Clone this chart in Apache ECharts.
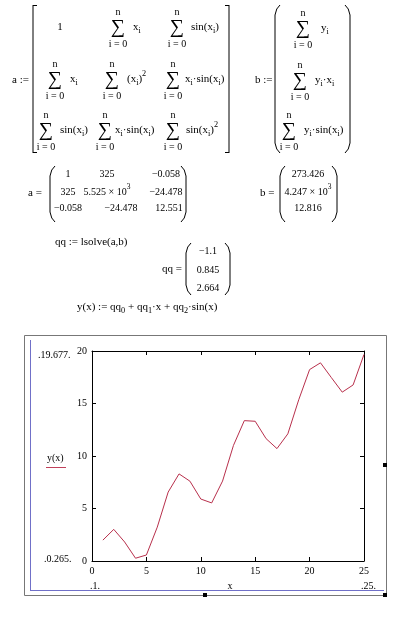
<!DOCTYPE html>
<html>
<head>
<meta charset="utf-8">
<script src="https://cdn.jsdelivr.net/npm/echarts@6/dist/echarts.min.js"></script>
<style>
html,body{margin:0;padding:0;background:#fff;}
#c{width:405px;height:620px;}
</style>
</head>
<body>
<div id="c"></div>
<script>
// ---- data ----
var xValues = [1,2,3,4,5,6,7,8,9,10,11,12,13,14,15,16,17,18,19,20,21,22,23,24,25];
var yValues = [1.987,3.012,1.811,0.264,0.570,3.226,6.565,8.296,7.603,5.901,5.531,7.611,11.004,
               13.369,13.307,11.653,10.704,12.109,15.354,18.232,18.874,17.466,16.081,16.767,19.672];
var xTicks = [0,5,10,15,20,25];
var yTicks = [0,5,10,15,20];
var matA = [["1","325","\u22120.058"],["325","5.525 \u00d7 10","\u221224.478"],["\u22120.058","\u221224.478","12.551"]];
var vecB = ["273.426","4.247 \u00d7 10","12.816"];
var vecQQ = ["\u22121.1","0.845","2.664"];
var yMaxLabel = "19.677";
var yMinLabel = "0.265";

// ---- helpers ----
var FONT = '"Liberation Serif","Times New Roman",serif';
var cv = document.createElement('canvas').getContext('2d');
function mw(s, size){ cv.font = size + 'px ' + FONT; return cv.measureText(s).width; }
var G = [];
function T(x, y, s, size, align){
  G.push({type:'text', x:x, y:y, silent:true, style:{text:s, font: (size||10)+'px '+FONT, fill:'#000',
    textAlign: align||'left', textVerticalAlign:'middle'}});
}
var SUBK = 0.75;
function exprWidth(parts, size){
  size = size||11; var w=0;
  parts.forEach(function(p){ w += mw(p[0], p[1]==='n'?size:size*SUBK); });
  return w;
}
function E(x, y, parts, size, center){
  size = size||11;
  if(center){ x = x - exprWidth(parts,size)/2; }
  parts.forEach(function(p){
    if(p[1]==='n'){ T(x,y,p[0],size); x += mw(p[0],size); }
    else if(p[1]==='s'){ T(x,y+4,p[0],size*SUBK); x += mw(p[0],size*SUBK); }
    else { T(x,y-5,p[0],size*SUBK); x += mw(p[0],size*SUBK); }
  });
}
function SUM(cx, cy){
  T(cx, cy-15, 'n', 10, 'center');
  T(cx, cy+1, '\u2211', 20, 'center');
  T(cx, cy+17, 'i = 0', 10, 'center');
}
function L(x1,y1,x2,y2,color,w){
  G.push({type:'line', silent:true, shape:{x1:x1,y1:y1,x2:x2,y2:y2}, style:{stroke:color||'#000', lineWidth:w||1}});
}
function sqBracket(x, top, bot, dir){
  L(x, top, x, bot); L(x, top+0.5, x+4*dir, top+0.5); L(x, bot-0.5, x+4*dir, bot-0.5);
}
function paren(x, top, bot, dir){
  var c = 5*dir;
  G.push({type:'bezierCurve', silent:true, shape:{x1:x+c, y1:top, x2:x, y2:top+10, cpx1:x+1*dir, cpy1:top+3}, style:{stroke:'#000', lineWidth:1, fill:null}});
  L(x, top+10, x, bot-10);
  G.push({type:'bezierCurve', silent:true, shape:{x1:x, y1:bot-10, x2:x+c, y2:bot, cpx1:x+1*dir, cpy1:bot-3}, style:{stroke:'#000', lineWidth:1, fill:null}});
}
var xi = [['x','n'],['i','s']];
var sinxi = [['sin(x','n'],['i','s'],[')','n']];
var dot = [['\u00b7','n']];

// ---- matrix a := ----
T(12, 80, 'a :=', 11);
sqBracket(33, 5, 153, 1);
sqBracket(229, 5, 153, -1);
T(60, 27, '1', 11, 'center');
SUM(118, 27); E(133, 27, xi);
SUM(177, 27); E(191, 27, sinxi);
SUM(55, 79); E(70, 79, xi);
SUM(112, 79); E(127, 79, [['(x','n'],['i','s'],[')','n'],['2','p']]);
SUM(173, 79); E(185, 79, xi.concat(dot, sinxi));
SUM(46, 130); E(60, 130, sinxi);
SUM(105, 130); E(115, 130, xi.concat(dot, sinxi));
SUM(173, 130); E(186, 130, sinxi.concat([['2','p']]));

// ---- vector b := ----
T(255, 80, 'b :=', 11);
paren(275, 5, 153, 1);
paren(350, 5, 153, -1);
SUM(303, 28); E(321, 28, [['y','n'],['i','s']]);
SUM(300, 80); E(315, 80, [['y','n'],['i','s'],['\u00b7x','n'],['i','s']]);
SUM(289, 130); E(304, 130, [['y','n'],['i','s'],['\u00b7','n']].concat(sinxi));

// ---- numeric a = ----
T(28, 193, 'a =', 11);
paren(50, 166, 222, 1);
paren(186, 166, 222, -1);
var colX = [[68, 107, 166],[68, 107, 166],[68, 121, 169]], rowY = [174, 192, 208];
for (var r=0;r<3;r++) for (var c=0;c<3;c++){
  var s = matA[r][c];
  if (r===1 && c===1) E(colX[r][c], rowY[r], [[s,'n'],['3','p']], 10, true);
  else T(colX[r][c], rowY[r], s, 10, 'center');
}
// ---- numeric b = ----
T(260, 193, 'b =', 11);
paren(280, 166, 222, 1);
paren(337, 166, 222, -1);
T(308, 174, vecB[0], 10, 'center');
E(308, 192, [[vecB[1],'n'],['3','p']], 10, true);
T(308, 208, vecB[2], 10, 'center');

// ---- qq ----
T(55, 242, 'qq := lsolve(a,b)', 11);
T(162, 269, 'qq =', 11);
paren(186, 243, 295, 1);
paren(230, 243, 295, -1);
T(208, 251, vecQQ[0], 10, 'center');
T(208, 270, vecQQ[1], 10, 'center');
T(208, 288, vecQQ[2], 10, 'center');
E(77, 307, [['y(x) := qq','n'],['0','s'],[' + qq','n'],['1','s'],['\u00b7x + qq','n'],['2','s'],['\u00b7sin(x)','n']]);

// ---- plot frame ----
G.push({type:'rect', silent:true, shape:{x:24.5, y:335.5, width:362, height:260}, style:{fill:null, stroke:'#777', lineWidth:1}});
L(30.5, 340, 30.5, 590.5, '#7070c8', 1);
L(30, 590.5, 384, 590.5, '#7070c8', 1);
[[205,595],[385,465],[385,595]].forEach(function(p){
  G.push({type:'rect', silent:true, shape:{x:p[0]-2, y:p[1]-2, width:4, height:4}, style:{fill:'#000'}});
});
T(38, 355, '.' + yMaxLabel + '.', 10);
T(44, 559, '.' + yMinLabel + '.', 10);
T(47, 458, 'y(x)', 10);
L(46, 467.5, 66, 467.5, '#c0405a', 1);
T(230, 586, 'x', 10, 'center');
T(90, 586, '.1.', 10);
T(361, 586, '.25.', 10);

var pts = xValues.map(function(x,i){ return [x, yValues[i]]; });
function axisCommon(show){
  return {
    axisLine:{show:true, onZero:false, lineStyle:{color:'#000', width:1}},
    axisTick:{show:true, inside:true, length:4, lineStyle:{color:'#000'}},
    axisLabel:{show:show, color:'#000', fontFamily:FONT, fontSize:10, margin:5},
    splitLine:{show:false}
  };
}
var chart = echarts.init(document.getElementById('c'), null, {renderer:'canvas'});
chart.setOption({
  animation:false,
  backgroundColor:'#fff',
  grid:{left:92, top:351, width:272, height:210, containLabel:false},
  xAxis:[
    Object.assign({type:'value', min:xTicks[0], max:xTicks[xTicks.length-1], interval:5, position:'bottom'}, axisCommon(true)),
    Object.assign({type:'value', min:xTicks[0], max:xTicks[xTicks.length-1], interval:5, position:'top'}, axisCommon(false))
  ],
  yAxis:[
    Object.assign({type:'value', min:yTicks[0], max:yTicks[yTicks.length-1], interval:5, position:'left'}, axisCommon(true)),
    Object.assign({type:'value', min:yTicks[0], max:yTicks[yTicks.length-1], interval:5, position:'right'}, axisCommon(false))
  ],
  series:[{type:'line', data:pts, xAxisIndex:0, yAxisIndex:0, symbol:'none', lineStyle:{color:'#b8304c', width:1}}],
  graphic:G
});
</script>
</body>
</html>
